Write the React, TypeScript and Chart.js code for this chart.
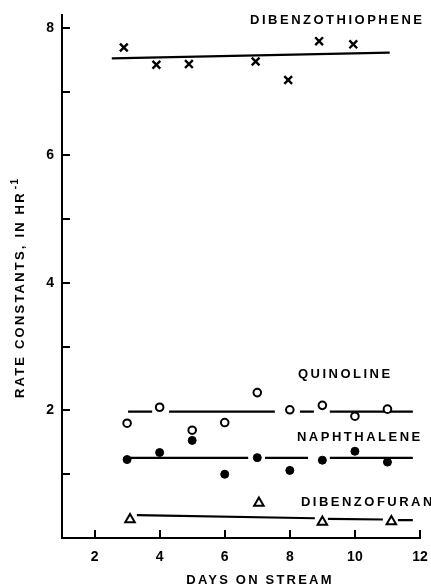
import React, { useEffect, useRef } from "react";
import { Chart, registerables } from "chart.js";

Chart.register(...registerables);

// ---- Data ----
const dbtX = [2.9, 3.9, 4.9, 6.95, 7.95, 8.9, 9.95];
const dbtY = [7.69, 7.42, 7.43, 7.47, 7.18, 7.79, 7.74];
const dbtFitX = [2.53, 11.07];
const dbtFitY = [7.52, 7.61];

const quinX = [3, 4, 5, 6, 7, 8, 9, 10, 11];
const quinY = [1.8, 2.05, 1.69, 1.81, 2.28, 2.01, 2.08, 1.91, 2.02];
const quinFitSegments = [[3.03, 3.77], [4.29, 7.54], [8.31, 8.74], [9.23, 11.78]];
const quinFitY = 1.98;

const naphX = [3, 4, 5, 6, 7, 8, 9, 10, 11];
const naphY = [1.23, 1.34, 1.53, 1.0, 1.26, 1.06, 1.22, 1.36, 1.19];
const naphFitSegments = [[3.0, 6.72], [7.24, 8.56], [9.23, 11.78]];
const naphFitY = 1.255;

const dbfX = [3.09, 7.05, 9.0, 11.12];
const dbfY = [0.29, 0.55, 0.25, 0.26];
const dbfFitX = [3.3, 8.77, null, 9.17, 10.86, null, 11.32, 11.78];
const dbfFitY = [0.36, 0.31, null, 0.3, 0.29, null, 0.28, 0.28];

const xTickValues = [2, 4, 6, 8, 10, 12];
const yTickValues = [1, 2, 3, 4, 5, 6, 7, 8];
const yLabelValues = [2, 4, 6, 8];

const seriesLabels = [
  { text: "DIBENZOTHIOPHENE", x: 6.78, y: 8.11 },
  { text: "QUINOLINE", x: 8.25, y: 2.56 },
  { text: "NAPHTHALENE", x: 8.22, y: 1.58 },
  { text: "DIBENZOFURAN", x: 8.34, y: 0.56 },
];

const xTitle = "DAYS ON STREAM";
const yTitle = "RATE CONSTANTS, IN HR";
const yTitleSup = "-1";

const FONT = '"Liberation Sans", Arial, sans-serif';

function segmentsToPoints(segs: number[][], y: number) {
  const pts: any[] = [];
  segs.forEach((s, i) => {
    if (i > 0) pts.push({ x: (segs[i - 1][1] + s[0]) / 2, y: null });
    pts.push({ x: s[0], y });
    pts.push({ x: s[1], y });
  });
  return pts;
}

const zip = (xs: any[], ys: any[]) => xs.map((x, i) => ({ x: x === null ? (xs[i - 1] + xs[i + 1]) / 2 : x, y: ys[i] }));

const overlay = {
  id: "overlay",
  afterDraw(chart: any) {
    const { ctx, chartArea } = chart;
    const xs = chart.scales.x;
    const ys = chart.scales.y;
    ctx.save();
    ctx.strokeStyle = "#000";
    ctx.lineWidth = 2;
    ctx.beginPath();
    yTickValues.forEach((v) => {
      const py = Math.round(ys.getPixelForValue(v));
      ctx.moveTo(chartArea.left, py);
      ctx.lineTo(chartArea.left + 8, py);
    });
    xTickValues.forEach((v) => {
      const px = Math.round(xs.getPixelForValue(v));
      ctx.moveTo(px, chartArea.bottom);
      ctx.lineTo(px, chartArea.bottom - 8);
    });
    ctx.stroke();

    ctx.fillStyle = "#000";
    ctx.font = `bold 13px ${FONT}`;
    (ctx as any).letterSpacing = "2.5px";
    ctx.textAlign = "left";
    ctx.textBaseline = "middle";
    seriesLabels.forEach((l) => {
      ctx.fillText(l.text, xs.getPixelForValue(l.x), ys.getPixelForValue(l.y));
    });

    (ctx as any).letterSpacing = "2.2px";
    ctx.textAlign = "center";
    ctx.fillText(xTitle, 260, 580);

    ctx.translate(20, 398);
    ctx.rotate(-Math.PI / 2);
    ctx.textAlign = "left";
    ctx.fillText(yTitle, 0, 0);
    const w = ctx.measureText(yTitle).width;
    ctx.font = `bold 10px ${FONT}`;
    (ctx as any).letterSpacing = "1.5px";
    ctx.fillText(yTitleSup, w + 2, -5);
    ctx.restore();
  },
};

export default function App() {
  const ref = useRef<HTMLCanvasElement>(null);
  useEffect(() => {
    if (!ref.current) return;
    const chart = new Chart(ref.current, {
      type: "scatter",
      data: {
        datasets: [
          {
            data: zip(dbtX, dbtY),
            pointStyle: "crossRot",
            pointRadius: 5.5,
            pointBorderWidth: 2.4,
            borderColor: "#000",
            backgroundColor: "#000",
            order: 1,
          } as any,
          {
            data: zip(quinX, quinY),
            pointStyle: "circle",
            pointRadius: 3.8,
            pointBorderWidth: 2,
            borderColor: "#000",
            backgroundColor: "#fff",
            order: 1,
          },
          {
            data: zip(naphX, naphY),
            pointStyle: "circle",
            pointRadius: 4,
            pointBorderWidth: 1,
            borderColor: "#000",
            backgroundColor: "#000",
            order: 1,
          },
          {
            data: zip(dbfX, dbfY),
            pointStyle: "triangle",
            pointRadius: 5.5,
            pointBorderWidth: 2,
            borderColor: "#000",
            backgroundColor: "#fff",
            order: 1,
          },
          {
            data: zip(dbtFitX, dbtFitY),
            showLine: true,
            pointRadius: 0,
            borderWidth: 2.2,
            borderColor: "#000",
            order: 2,
          },
          {
            data: segmentsToPoints(quinFitSegments, quinFitY),
            showLine: true,
            spanGaps: false,
            pointRadius: 0,
            borderWidth: 2.2,
            borderColor: "#000",
            order: 2,
          },
          {
            data: segmentsToPoints(naphFitSegments, naphFitY),
            showLine: true,
            spanGaps: false,
            pointRadius: 0,
            borderWidth: 2.2,
            borderColor: "#000",
            order: 2,
          },
          {
            data: zip(dbfFitX, dbfFitY),
            showLine: true,
            spanGaps: false,
            pointRadius: 0,
            borderWidth: 2.2,
            borderColor: "#000",
            order: 2,
          },
        ],
      },
      options: {
        animation: false,
        responsive: false,
        layout: { padding: { top: 15, right: 11, left: 0, bottom: 0 } },
        plugins: { legend: { display: false }, tooltip: { enabled: false } },
        scales: {
          x: {
            type: "linear",
            min: 1,
            max: 12,
            afterFit: (s: any) => { s.height = 50; s.paddingLeft = 0; s.paddingRight = 0; },
            afterBuildTicks: (s: any) => { s.ticks = xTickValues.map((v) => ({ value: v })); },
            grid: { display: false, drawTicks: false },
            border: { display: true, color: "#000", width: 2 },
            ticks: {
              padding: 11,
              color: "#000",
              font: { family: FONT, size: 14, weight: "bold" },
              callback: (v: any) => String(v),
            },
          },
          y: {
            type: "linear",
            min: 0,
            max: 8.2,
            afterFit: (s: any) => { s.width = 62; s.paddingTop = 0; s.paddingBottom = 0; },
            afterBuildTicks: (s: any) => { s.ticks = yTickValues.map((v) => ({ value: v })); },
            grid: { display: false, drawTicks: false },
            border: { display: true, color: "#000", width: 2 },
            ticks: {
              padding: 8,
              color: "#000",
              font: { family: FONT, size: 14, weight: "bold" },
              callback: (v: any) => (yLabelValues.includes(v) ? String(v) : ""),
            },
          },
        },
      },
      plugins: [overlay],
    } as any);
    return () => chart.destroy();
  }, []);
  return (
    <div style={{ position: "absolute", left: 0, top: 0, width: 431, height: 588, background: "#fff" }}>
      <canvas ref={ref} width={431} height={588} />
    </div>
  );
}
